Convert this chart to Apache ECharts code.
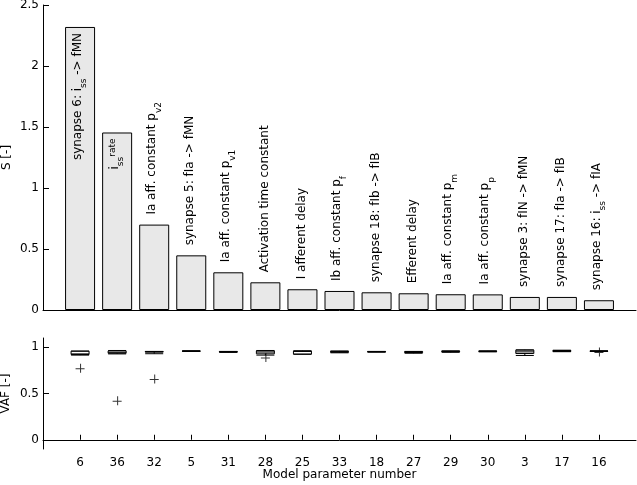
<!DOCTYPE html>
<html><head><meta charset="utf-8">
<script src="https://cdn.jsdelivr.net/npm/echarts@6/dist/echarts.min.js"></script>
<style>html,body{margin:0;padding:0;background:#fff}#c{width:637px;height:485px}</style>
</head><body><div id="c"></div>
<script>
// ---- data ----
const paramNumbers = ['6','36','32','5','31','28','25','33','18','27','29','30','3','17','16'];
const sensitivity = [2.32, 1.455, 0.70, 0.448, 0.309, 0.227, 0.17, 0.156, 0.145, 0.137, 0.129, 0.128, 0.107, 0.107, 0.08];
const barLabels = [
  'synapse 6: i_{ss} -> fMN',
  'i_{ss}^{rate}',
  'Ia aff. constant p_{v2}',
  'synapse 5: fIa -> fMN',
  'Ia aff. constant p_{v1}',
  'Activation time constant',
  'I afferent delay',
  'Ib aff. constant p_{f}',
  'synapse 18: fIb -> fIB',
  'Efferent delay',
  'Ia aff. constant p_{m}',
  'Ia aff. constant p_{p}',
  'synapse 3: fIN -> fMN',
  'synapse 17: fIa -> fIB',
  'synapse 16: i_{ss} -> fIA'
];
// VAF boxplot: [min, Q1, median, Q3, max]
const vafBoxes = [
  [0.915, 0.922, 0.928, 0.958, 0.958],
  [0.928, 0.935, 0.945, 0.960, 0.965],
  [0.930, 0.948, 0.951, 0.953, 0.955],
  [0.957, 0.958, 0.958, 0.959, 0.959],
  [0.945, 0.948, 0.951, 0.953, 0.955],
  [0.915, 0.929, 0.948, 0.961, 0.965],
  [0.924, 0.926, 0.955, 0.958, 0.962],
  [0.940, 0.946, 0.950, 0.955, 0.960],
  [0.948, 0.950, 0.951, 0.953, 0.955],
  [0.935, 0.943, 0.948, 0.952, 0.955],
  [0.945, 0.953, 0.956, 0.958, 0.960],
  [0.950, 0.955, 0.957, 0.958, 0.960],
  [0.911, 0.932, 0.950, 0.969, 0.972],
  [0.952, 0.955, 0.960, 0.965, 0.968],
  [0.955, 0.957, 0.958, 0.959, 0.960]
];
// outliers: [parameter number, VAF]
const vafOutliers = [['6', 0.772], ['36', 0.422], ['32', 0.658], ['28', 0.89], ['16', 0.948]];
const sTicks = [0, 0.5, 1, 1.5, 2, 2.5];
const vafTicks = [0, 0.5, 1];

// ---- helpers ----
const FONT = 'DejaVu Sans';
const cats = [''].concat(paramNumbers, [' ']);
function toRich(s) {
  let out = '', last = 0, m;
  const re = /([_^])\{([^}]*)\}/g;
  while ((m = re.exec(s))) {
    if (m.index > last) out += '{n|' + s.slice(last, m.index) + '}';
    out += '{' + (m[1] === '_' ? 'sub' : 'sup') + '|' + m[2] + '}';
    last = re.lastIndex;
  }
  if (last < s.length) out += '{n|' + s.slice(last) + '}';
  return out;
}
const rich = {
  n: {fontFamily: FONT, fontSize: 12, color: '#000', lineHeight: 14, verticalAlign: 'top'},
  sub: {fontFamily: FONT, fontSize: 9, color: '#000', verticalAlign: 'top', padding: [8, 0, 0, 0]},
  sup: {fontFamily: FONT, fontSize: 9, color: '#000', verticalAlign: 'top', padding: [0, 0, 4, 0]}
};
const barData = sensitivity.map((v, i) => {
  const item = {value: [i + 1, v]};
  if (v > 1) item.label = {position: 'insideTop', align: 'right', distance: 6};
  return item;
});
const boxData = vafBoxes.map((b, i) => [i + 1].concat(b));
const outlierData = vafOutliers.map(o => [paramNumbers.indexOf(o[0]) + 1, o[1]]);

const axisLine = {show: true, lineStyle: {color: '#000', width: 1}};
const txt = {color: '#000', fontFamily: FONT, fontSize: 12};

const chart = echarts.init(document.getElementById('c'), null, {renderer: 'canvas'});
chart.setOption({
  animation: false,
  backgroundColor: '#fff',
  grid: [
    {left: 43, top: 5, width: 593, height: 305, containLabel: false, outerBoundsMode: 'none'},
    {left: 43, top: 338, width: 593, height: 111, containLabel: false, outerBoundsMode: 'none'}
  ],
  xAxis: [
    {gridIndex: 0, type: 'category', data: cats, boundaryGap: false,
     axisLine: axisLine, axisTick: {show: false}, axisLabel: {show: false}, splitLine: {show: false}},
    {gridIndex: 1, type: 'category', data: cats, boundaryGap: false,
     axisLine: axisLine,
     axisTick: {show: true, inside: true, length: 5, interval: (i) => i > 0 && i < cats.length - 1, lineStyle: {color: '#000'}},
     axisLabel: Object.assign({interval: 0, margin: 8}, txt),
     splitLine: {show: false},
     name: 'Model parameter number', nameLocation: 'middle', nameGap: 20, nameMoveOverlap: false,
     nameTextStyle: txt}
  ],
  yAxis: [
    {gridIndex: 0, type: 'value', min: 0, max: 2.5, interval: 0.5,
     axisLine: axisLine,
     axisTick: {show: true, inside: true, length: 6, lineStyle: {color: '#000'}},
     axisLabel: Object.assign({margin: 4, customValues: sTicks}, txt),
     splitLine: {show: false},
     name: 'S [-]', nameLocation: 'middle', nameGap: 30, nameMoveOverlap: false, nameTextStyle: txt},
    {gridIndex: 1, type: 'value', min: -0.1, max: 1.1,
     axisLine: axisLine,
     axisTick: {show: true, inside: true, length: 6, customValues: vafTicks, lineStyle: {color: '#000'}},
     axisLabel: Object.assign({margin: 4, customValues: vafTicks}, txt),
     splitLine: {show: false},
     name: 'VAF [-]', nameLocation: 'middle', nameGap: 31, nameMoveOverlap: false, nameTextStyle: txt}
  ],
  series: [
    {type: 'bar', xAxisIndex: 0, yAxisIndex: 0, data: barData, barWidth: 30,
     itemStyle: {color: '#e8e8e8', borderColor: '#000', borderWidth: 1},
     label: {show: true, position: 'top', rotate: 90, align: 'left', verticalAlign: 'middle', distance: 10,
       formatter: (p) => toRich(barLabels[p.dataIndex]), rich: rich},
     emphasis: {disabled: true}, silent: true},
    {type: 'boxplot', xAxisIndex: 1, yAxisIndex: 1, encode: {x: 0, y: [1, 2, 3, 4, 5]},
     data: boxData, boxWidth: [18, 18],
     itemStyle: {color: '#fff', borderColor: '#000', borderWidth: 1},
     emphasis: {disabled: true}, silent: true},
    {type: 'scatter', xAxisIndex: 1, yAxisIndex: 1, data: outlierData,
     symbol: 'path://M0,4.5L9,4.5L9,5.5L0,5.5Z M4.5,0L5.5,0L5.5,9L4.5,9Z', symbolSize: 9,
     itemStyle: {color: '#000'}, emphasis: {disabled: true}, silent: true}
  ]
});
</script>
</body></html>
